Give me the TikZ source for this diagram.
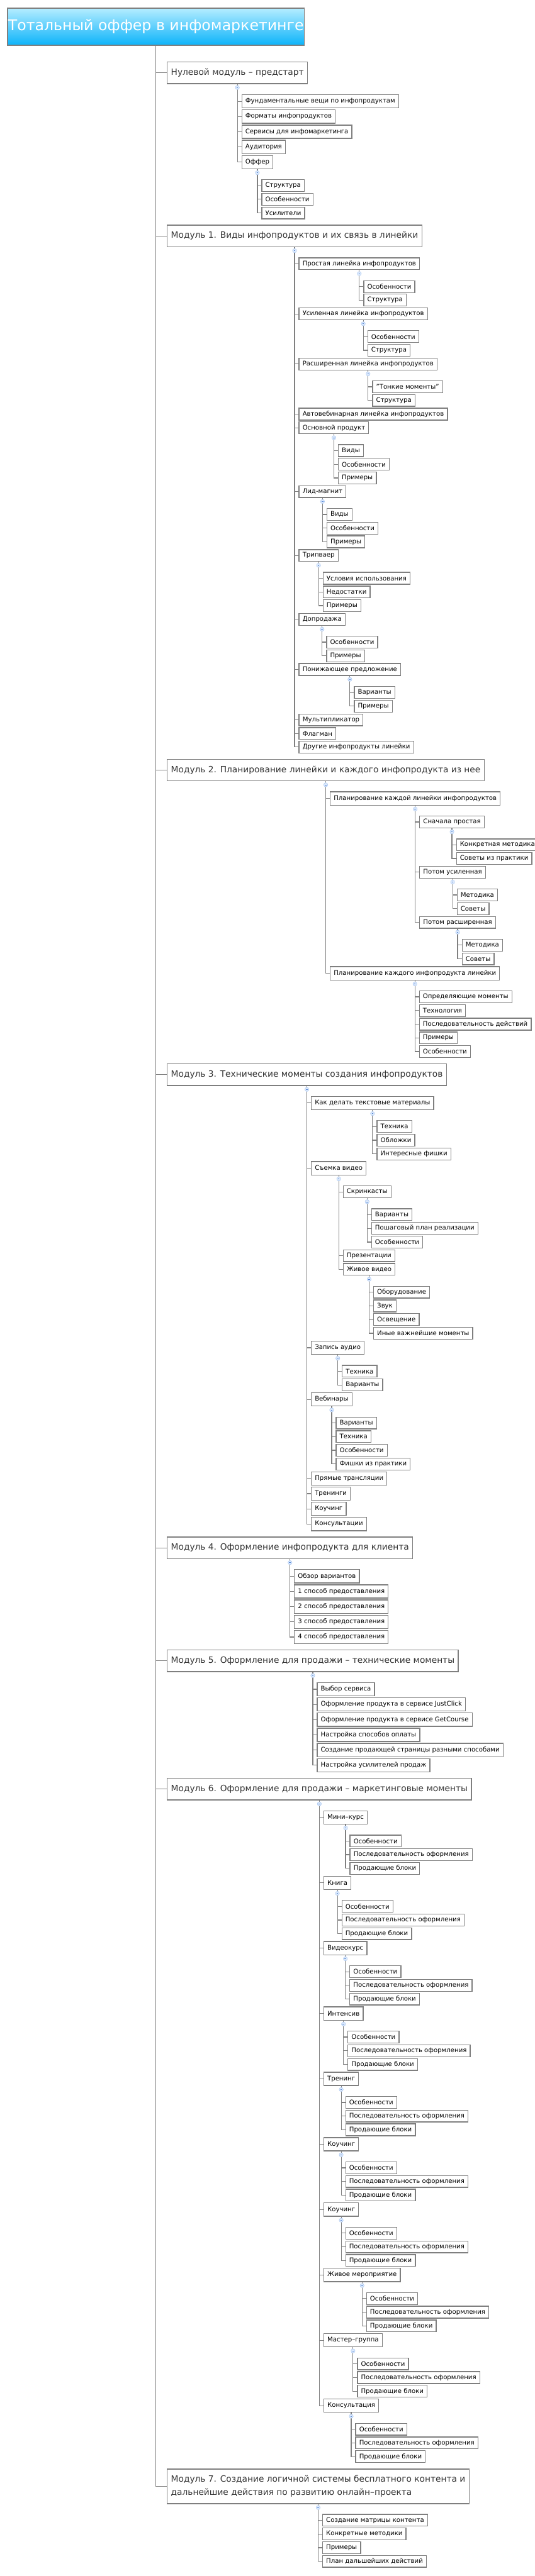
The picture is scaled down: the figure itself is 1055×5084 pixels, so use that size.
\documentclass[tikz,border=0pt]{standalone}
\usepackage{fontspec}
\setmainfont{DejaVu Sans}
\usetikzlibrary{calc}
\definecolor{boxline}{HTML}{7F7F7F}
\definecolor{conncol}{HTML}{808080}
\definecolor{modtext}{HTML}{333333}
\definecolor{titletop}{HTML}{B5EDFF}
\definecolor{titlebot}{HTML}{0CB3FA}
\definecolor{mkfill}{HTML}{DCE9FB}
\definecolor{mkline}{HTML}{A9C7F2}
\definecolor{mkminus}{HTML}{5A8AD8}
\tikzset{
 box/.style={draw=boxline, line width=1.2pt, fill=white, rectangle, inner ysep=0pt, align=left},
 titlebox/.style={draw=boxline, line width=1.6pt, top color=titletop, bottom color=titlebot, text=white,
   font=\fontsize{22}{26}\selectfont, minimum width=438.75pt, minimum height=55.2pt, inner sep=0pt},
 modbox/.style={box, anchor=west, text=modtext, font=\fontsize{12.8}{19.3}\selectfont, inner xsep=5.6pt, minimum height=31.9pt},
 subbox/.style={box, anchor=west, xshift=6pt, text=black, font=\fontsize{9.45}{12}\selectfont, inner xsep=5.25pt, minimum height=19.7pt},
 leafbox/.style={subbox, minimum height=17.5pt},
 conn/.style={draw=conncol, line width=1.1pt},
 marker/.style={circle, draw=mkline, fill=mkfill, line width=0.5pt, minimum size=6pt, inner sep=0pt,
   path picture={\draw[mkminus, line width=0.6pt] ([xshift=-1.2pt]path picture bounding box.center) -- ([xshift=1.2pt]path picture bounding box.center);}},
}
\newcommand{\kids}[2]{\foreach \c in {#2} {\draw[conn] (#1.south) |- (\c.west);}
  \node[marker] at ($(#1.south)+(0,7)$) {};}
\begin{document}
\begin{tikzpicture}[x=0.75pt,y=-0.75pt]
\useasboundingbox (0,0) rectangle (1055,5084);
\node[titlebox] (title) at (307.5,52.5) {Тотальный оффер в инфомаркетинге};

% ---------- Module 0
\node[modbox] (m0) at (329,143.7) {Нулевой модуль – предстарт};
\node[subbox] (a1) at (m0.south |- 0,200) {Фундаментальные вещи по инфопродуктам};
\node[subbox] (a2) at (m0.south |- 0,230) {Форматы инфопродуктов};
\node[subbox] (a3) at (m0.south |- 0,260) {Сервисы для инфомаркетинга};
\node[subbox] (a4) at (m0.south |- 0,290) {Аудитория};
\node[subbox] (a5) at (m0.south |- 0,320) {Оффер};
\node[leafbox] (a5a) at (a5.south |- 0,366.3) {Структура};
\node[leafbox] (a5b) at (a5.south |- 0,393.3) {Особенности};
\node[leafbox] (a5c) at (a5.south |- 0,420.3) {Усилители};
\kids{m0}{a1,a2,a3,a4,a5}
\kids{a5}{a5a,a5b,a5c}

% ---------- Module 1
\node[modbox] (m1) at (329,465.7) {Модуль 1. Виды инфопродуктов и их связь в линейки};
\node[leafbox] (b1) at (m1.south |- 0,520.5) {Простая линейка инфопродуктов};
\node[leafbox] (b1a) at (b1.south |- 0,565.7) {Особенности};
\node[leafbox] (b1b) at (b1.south |- 0,592.3) {Структура};
\node[leafbox] (b2) at (m1.south |- 0,619.5) {Усиленная линейка инфопродуктов};
\node[leafbox] (b2a) at (b2.south |- 0,664.3) {Особенности};
\node[leafbox] (b2b) at (b2.south |- 0,691.3) {Структура};
\node[leafbox] (b3) at (m1.south |- 0,718.5) {Расширенная линейка инфопродуктов};
\node[leafbox] (b3a) at (b3.south |- 0,763.3) {"Тонкие моменты"};
\node[leafbox] (b3b) at (b3.south |- 0,790.3) {Структура};
\node[leafbox] (b4) at (m1.south |- 0,817.3) {Автовебинарная линейка инфопродуктов};
\node[leafbox] (b5) at (m1.south |- 0,844.3) {Основной продукт};
\node[leafbox] (b5a) at (b5.south |- 0,889.3) {Виды};
\node[leafbox] (b5b) at (b5.south |- 0,916.3) {Особенности};
\node[leafbox] (b5c) at (b5.south |- 0,943.3) {Примеры};
\node[leafbox] (b6) at (m1.south |- 0,970.3) {Лид-магнит};
\node[leafbox] (b6a) at (b6.south |- 0,1015.3) {Виды};
\node[leafbox] (b6b) at (b6.south |- 0,1042.3) {Особенности};
\node[leafbox] (b6c) at (b6.south |- 0,1069.3) {Примеры};
\node[leafbox] (b7) at (m1.south |- 0,1096.3) {Трипваер};
\node[leafbox] (b7a) at (b7.south |- 0,1141.3) {Условия использования};
\node[leafbox] (b7b) at (b7.south |- 0,1168.3) {Недостатки};
\node[leafbox] (b7c) at (b7.south |- 0,1195.3) {Примеры};
\node[leafbox] (b8) at (m1.south |- 0,1222.3) {Допродажа};
\node[leafbox] (b8a) at (b8.south |- 0,1267.3) {Особенности};
\node[leafbox] (b8b) at (b8.south |- 0,1294.3) {Примеры};
\node[leafbox] (b9) at (m1.south |- 0,1321.3) {Понижающее предложение};
\node[leafbox] (b9a) at (b9.south |- 0,1366.7) {Варианты};
\node[leafbox] (b9b) at (b9.south |- 0,1393.7) {Примеры};
\node[leafbox] (b10) at (m1.south |- 0,1420.7) {Мультипликатор};
\node[leafbox] (b11) at (m1.south |- 0,1447.7) {Флагман};
\node[leafbox] (b12) at (m1.south |- 0,1474.3) {Другие инфопродукты линейки};
\kids{m1}{b1,b2,b3,b4,b5,b6,b7,b8,b9,b10,b11,b12}
\kids{b1}{b1a,b1b}
\kids{b2}{b2a,b2b}
\kids{b3}{b3a,b3b}
\kids{b5}{b5a,b5b,b5c}
\kids{b6}{b6a,b6b,b6c}
\kids{b7}{b7a,b7b,b7c}
\kids{b8}{b8a,b8b}
\kids{b9}{b9a,b9b}

% ---------- Module 2
\node[modbox] (m2) at (329,1519.8) {Модуль 2. Планирование линейки и каждого инфопродукта из нее};
\node[subbox] (c1) at (m2.south |- 0,1575.8) {Планирование каждой линейки инфопродуктов};
\node[leafbox] (c1a) at (c1.south |- 0,1622.3) {Сначала простая};
\node[leafbox] (c1a1) at (c1a.south |- 0,1667.3) {Конкретная методика};
\node[leafbox] (c1a2) at (c1a.south |- 0,1694.3) {Советы из практики};
\node[leafbox] (c1b) at (c1.south |- 0,1721.3) {Потом усиленная};
\node[leafbox] (c1b1) at (c1b.south |- 0,1766.3) {Методика};
\node[leafbox] (c1b2) at (c1b.south |- 0,1793.3) {Советы};
\node[leafbox] (c1c) at (c1.south |- 0,1820.3) {Потом расширенная};
\node[leafbox] (c1c1) at (c1c.south |- 0,1865.3) {Методика};
\node[leafbox] (c1c2) at (c1c.south |- 0,1892.3) {Советы};
\node[subbox] (c2) at (m2.south |- 0,1921) {Планирование каждого инфопродукта линейки};
\node[leafbox] (c2a) at (c2.south |- 0,1967.3) {Определяющие моменты};
\node[leafbox] (c2b) at (c2.south |- 0,1994.3) {Технология};
\node[leafbox] (c2c) at (c2.south |- 0,2021.3) {Последовательность действий};
\node[leafbox] (c2d) at (c2.south |- 0,2048.3) {Примеры};
\node[leafbox] (c2e) at (c2.south |- 0,2075.3) {Особенности};
\kids{m2}{c1,c2}
\kids{c1}{c1a,c1b,c1c}
\kids{c1a}{c1a1,c1a2}
\kids{c1b}{c1b1,c1b2}
\kids{c1c}{c1c1,c1c2}
\kids{c2}{c2a,c2b,c2c,c2d,c2e}

% ---------- Module 3
\node[modbox] (m3) at (329,2121) {Модуль 3. Технические моменты создания инфопродуктов};
\node[subbox] (d1) at (m3.south |- 0,2176.8) {Как делать текстовые материалы};
\node[leafbox] (d1a) at (d1.south |- 0,2223.3) {Техника};
\node[leafbox] (d1b) at (d1.south |- 0,2250.3) {Обложки};
\node[leafbox] (d1c) at (d1.south |- 0,2277.3) {Интересные фишки};
\node[subbox] (d2) at (m3.south |- 0,2305.8) {Съемка видео};
\node[leafbox] (d2a) at (d2.south |- 0,2352.3) {Скринкасты};
\node[leafbox] (d2a1) at (d2a.south |- 0,2397.3) {Варианты};
\node[leafbox] (d2a2) at (d2a.south |- 0,2424.3) {Пошаговый план реализации};
\node[leafbox] (d2a3) at (d2a.south |- 0,2451.3) {Особенности};
\node[leafbox] (d2b) at (d2.south |- 0,2478.3) {Презентации};
\node[leafbox] (d2c) at (d2.south |- 0,2505.3) {Живое видео};
\node[leafbox] (d2c1) at (d2c.south |- 0,2550.3) {Оборудование};
\node[leafbox] (d2c2) at (d2c.south |- 0,2577.3) {Звук};
\node[leafbox] (d2c3) at (d2c.south |- 0,2604.3) {Освещение};
\node[leafbox] (d2c4) at (d2c.south |- 0,2631.3) {Иные важнейшие моменты};
\node[subbox] (d3) at (m3.south |- 0,2659.8) {Запись аудио};
\node[leafbox] (d3a) at (d3.south |- 0,2706.3) {Техника};
\node[leafbox] (d3b) at (d3.south |- 0,2733.3) {Варианты};
\node[subbox] (d4) at (m3.south |- 0,2761.8) {Вебинары};
\node[leafbox] (d4a) at (d4.south |- 0,2808.3) {Варианты};
\node[leafbox] (d4b) at (d4.south |- 0,2835.3) {Техника};
\node[leafbox] (d4c) at (d4.south |- 0,2862.3) {Особенности};
\node[leafbox] (d4d) at (d4.south |- 0,2889.3) {Фишки из практики};
\node[subbox] (d5) at (m3.south |- 0,2917.8) {Прямые трансляции};
\node[subbox] (d6) at (m3.south |- 0,2947.8) {Тренинги};
\node[subbox] (d7) at (m3.south |- 0,2977.8) {Коучинг};
\node[subbox] (d8) at (m3.south |- 0,3007.8) {Консультации};
\kids{m3}{d1,d2,d3,d4,d5,d6,d7,d8}
\kids{d1}{d1a,d1b,d1c}
\kids{d2}{d2a,d2b,d2c}
\kids{d2a}{d2a1,d2a2,d2a3}
\kids{d2c}{d2c1,d2c2,d2c3,d2c4}
\kids{d3}{d3a,d3b}
\kids{d4}{d4a,d4b,d4c,d4d}

% ---------- Module 4
\node[modbox] (m4) at (329,3054.8) {Модуль 4. Оформление инфопродукта для клиента};
\node[subbox] (e1) at (m4.south |- 0,3110.8) {Обзор вариантов};
\node[subbox] (e2) at (m4.south |- 0,3140.8) {1 способ предоставления};
\node[subbox] (e3) at (m4.south |- 0,3170.8) {2 способ предоставления};
\node[subbox] (e4) at (m4.south |- 0,3200.8) {3 способ предоставления};
\node[subbox] (e5) at (m4.south |- 0,3230.8) {4 способ предоставления};
\kids{m4}{e1,e2,e3,e4,e5}

% ---------- Module 5
\node[modbox] (m5) at (329,3277.8) {Модуль 5. Оформление для продажи – технические моменты};
\node[subbox] (f1) at (m5.south |- 0,3333.8) {Выбор сервиса};
\node[subbox] (f2) at (m5.south |- 0,3363.8) {Оформление продукта в сервисе JustClick};
\node[subbox] (f3) at (m5.south |- 0,3393.8) {Оформление продукта в сервисе GetCourse};
\node[subbox] (f4) at (m5.south |- 0,3423.8) {Настройка способов оплаты};
\node[subbox] (f5) at (m5.south |- 0,3453.8) {Создание продающей страницы разными способами};
\node[subbox] (f6) at (m5.south |- 0,3483.8) {Настройка усилителей продаж};
\kids{m5}{f1,f2,f3,f4,f5,f6}

% ---------- Module 6
\node[modbox] (m6) at (329,3531) {Модуль 6. Оформление для продажи – маркетинговые моменты};
\foreach \i/\t/\y in {1/Мини–курс/3586.8, 2/Книга/3715.8, 3/Видеокурс/3844.8, 4/Интенсив/3973.8,
  5/Тренинг/4102.8, 6/Коучинг/4231.8, 7/Коучинг/4360.8, 8/Живое мероприятие/4489.8,
  9/Мастер–группа/4618.8, 10/Консультация/4747.8} {
  \node[subbox] (g\i) at (m6.south |- 0,\y) {\t};
  \node[leafbox] (g\i a) at (g\i.south |- 0,\y+46.5) {Особенности};
  \node[leafbox] (g\i b) at (g\i.south |- 0,\y+73.5) {Последовательность оформления};
  \node[leafbox] (g\i c) at (g\i.south |- 0,\y+100.5) {Продающие блоки};
  \kids{g\i}{g\i a,g\i b,g\i c}
}
\kids{m6}{g1,g2,g3,g4,g5,g6,g7,g8,g9,g10}

% ---------- Module 7
\node[modbox, minimum height=51.2pt] (m7) at (329,4907) {Модуль 7. Создание логичной системы бесплатного контента и\\дальнейшие действия по развитию онлайн–проекта};
\node[leafbox] (h1) at (m7.south |- 0,4974) {Создание матрицы контента};
\node[leafbox] (h2) at (m7.south |- 0,5001) {Конкретные методики};
\node[leafbox] (h3) at (m7.south |- 0,5028) {Примеры};
\node[leafbox] (h4) at (m7.south |- 0,5055) {План дальшейших действий};
\kids{m7}{h1,h2,h3,h4}

% ---------- trunk
\foreach \m in {m0,m1,m2,m3,m4,m5,m6,m7} {\draw[conn] (title.south) |- (\m.west);}
\end{tikzpicture}
\end{document}
